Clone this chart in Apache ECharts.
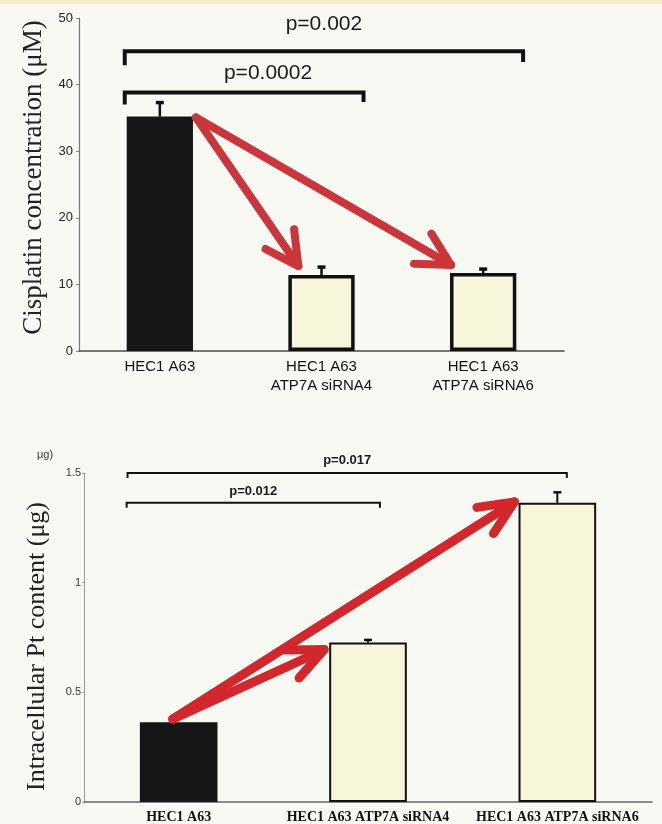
<!DOCTYPE html>
<html>
<head>
<meta charset="utf-8">
<script src="https://cdn.jsdelivr.net/npm/echarts@6/dist/echarts.min.js"></script>
<style>
  html, body { margin: 0; padding: 0; background: #f9f9f3; }
  #chart { width: 662px; height: 824px; }
</style>
</head>
<body>
<div id="chart"></div>
<script>
// Groups shown in both panels
const cisplatinCategories = ['HEC1 A63', 'HEC1 A63\nATP7A siRNA4', 'HEC1 A63\nATP7A siRNA6'];
const ptCategories = ['HEC1 A63', 'HEC1 A63 ATP7A siRNA4', 'HEC1 A63 ATP7A siRNA6'];

// Upper panel: cisplatin concentration (µM), mean and SD
const cisplatinValues = [35.2, 11.4, 11.7];
const cisplatinErrors = [2.1, 1.2, 0.6];
const cisplatinTicks = [0, 10, 20, 30, 40, 50];

// Lower panel: intracellular Pt content (µg), mean and SD
const ptValues = [0.364, 0.727, 1.364];
const ptErrors = [0, 0.012, 0.048];
const ptTicks = [0, 0.5, 1, 1.5];

// Significance comparisons: [group A, group B, label]
const cisplatinComparisons = [[0, 2, 'p=0.002'], [0, 1, 'p=0.0002']];
const ptComparisons = [[0, 2, 'p=0.017'], [0, 1, 'p=0.012']];

// Trend arrows: [from group, to group]
const cisplatinArrows = [[0, 1], [0, 2]];
const ptArrows = [[0, 1], [0, 2]];

const BAR_RATIO = 0.41;
const CREAM = '#f7f5da';

// Layout of the annotation layers (pixel / band-fraction tweaks per panel)
const topLayout = {
  bracket: [
    { left: -0.217, right: 0.247, level: 45, dropL: 42.9, dropR: 43.4, textX: 0.5, textV: 49, lw: 4 },
    { left: -0.217, right: 0.26, level: 38.8, dropL: 37.0, dropR: 37.4, textX: 0.6, textV: 41.7, lw: 4 }
  ],
  font: '21px "Liberation Sans", Arial, sans-serif',
  arrow: {
    start: b => [b.right + 3, b.top + 1],
    tips: [b => [b.left + 10, b.top - 9], b => [b.left + 1, b.top - 8]],
    arm: 37, angle: 28, lw: 8, color: '#c9363b'
  },
  err: { lw: 2.5, cap: 8, capW: 3.5 }
};
const bottomLayout = {
  bracket: [
    { left: -0.27, right: 0.05, level: 1.5, dropL: 1.477, dropR: 1.477, textX: 0.5, textV: 1.559, lw: 2 },
    { left: -0.275, right: 0.063, level: 1.364, dropL: 1.342, dropR: 1.342, textX: 0.5, textV: 1.414, lw: 2 }
  ],
  font: 'bold 13px "Liberation Sans", Arial, sans-serif',
  arrow: {
    start: b => [b.cx - 6, b.top - 3],
    tips: [b => [b.left - 5, b.top + 7], b => [b.left - 4, b.top - 1]],
    arm: 38, angle: 24, lw: 9, color: '#d2282d'
  },
  err: { lw: 2, cap: 8, capW: 2.5 }
};

function barGeometry(api, values) {
  const band = api.size([1, 0])[0];
  const half = band * BAR_RATIO / 2;
  return values.map((v, i) => {
    const p = api.coord([i, v]);
    return { cx: p[0], top: p[1], left: p[0] - half, right: p[0] + half, band };
  });
}

// Shaft plus an open chevron head, stroked with round ends
function arrowShapes(S, T, o) {
  const back = Math.atan2(S[1] - T[1], S[0] - T[0]);
  const a = o.angle * Math.PI / 180;
  const w1 = [T[0] + o.arm * Math.cos(back + a), T[1] + o.arm * Math.sin(back + a)];
  const w2 = [T[0] + o.arm * Math.cos(back - a), T[1] + o.arm * Math.sin(back - a)];
  const style = { stroke: o.color, lineWidth: o.lw, lineCap: 'round', lineJoin: 'round', fill: null };
  return [
    { type: 'line', shape: { x1: S[0], y1: S[1], x2: T[0], y2: T[1] }, style },
    { type: 'polyline', shape: { points: [w1, T, w2] }, style }
  ];
}

function makeAnnotations(values, errors, comparisons, arrows, layout) {
  return function (params, api) {
    const bars = barGeometry(api, values);
    const yOf = v => api.coord([0, v])[1];
    const children = [];

    // error bars (upper whisker only)
    values.forEach((v, i) => {
      if (!errors[i]) return;
      const yTop = yOf(v + errors[i]);
      const x = bars[i].cx;
      children.push({ type: 'line', shape: { x1: x, y1: bars[i].top, x2: x, y2: yTop },
        style: { stroke: '#111', lineWidth: layout.err.lw } });
      children.push({ type: 'line', shape: { x1: x - layout.err.cap / 2, y1: yTop, x2: x + layout.err.cap / 2, y2: yTop },
        style: { stroke: '#111', lineWidth: layout.err.capW } });
    });

    // significance brackets with p-values
    comparisons.forEach((c, k) => {
      const g = layout.bracket[k];
      const band = bars[0].band;
      const x1 = bars[c[0]].cx + g.left * band;
      const x2 = bars[c[1]].cx + g.right * band;
      const y = yOf(g.level);
      children.push({ type: 'polyline',
        shape: { points: [[x1, yOf(g.dropL)], [x1, y], [x2, y], [x2, yOf(g.dropR)]] },
        style: { stroke: '#111', lineWidth: g.lw, fill: null, lineJoin: 'miter' } });
      const tx = x1 + (x2 - x1) * g.textX;
      children.push({ type: 'text',
        style: { text: c[2], x: tx, y: yOf(g.textV), align: 'center', verticalAlign: 'middle',
          font: layout.font, fill: '#1a1a1a' } });
    });

    // trend arrows from the control bar
    arrows.forEach((a, k) => {
      const S = layout.arrow.start(bars[a[0]]);
      const T = layout.arrow.tips[k](bars[a[1]]);
      arrowShapes(S, T, layout.arrow).forEach(el => children.push(el));
    });

    return { type: 'group', children };
  };
}

function barData(values, lw) {
  return values.map((v, i) => ({
    value: v,
    itemStyle: i === 0
      ? { color: '#161616', borderColor: '#161616', borderWidth: 0 }
      : { color: CREAM, borderColor: '#111', borderWidth: lw }
  }));
}

const chart = echarts.init(document.getElementById('chart'));
chart.setOption({
  backgroundColor: '#f9f9f3',
  animation: false,
  graphic: [
    { type: 'rect', left: 0, top: 0, shape: { width: 662, height: 4 }, style: { fill: '#f4edbd' } },
    { type: 'text', left: 37, top: 449, style: { text: 'μg)', font: '11px "Liberation Sans", Arial, sans-serif', fill: '#333' } }
  ],
  grid: [
    { left: 79, top: 18, width: 485, height: 333 },
    { left: 84, top: 473, width: 568, height: 330 }
  ],
  xAxis: [
    { type: 'category', gridIndex: 0, data: cisplatinCategories,
      axisLine: { lineStyle: { color: '#4a4a4a', width: 1.5 } }, axisTick: { show: false },
      axisLabel: { interval: 0, color: '#111', fontSize: 15, lineHeight: 19, margin: 6,
        fontFamily: '"Liberation Sans", Arial, sans-serif' } },
    { type: 'category', gridIndex: 1, data: ptCategories,
      axisLine: { lineStyle: { color: '#666', width: 1.5 } }, axisTick: { show: false },
      axisLabel: { interval: 0, color: '#111', fontSize: 14, fontWeight: 'bold', margin: 8,
        fontFamily: '"Liberation Serif", "Times New Roman", serif' } }
  ],
  yAxis: [
    { type: 'value', gridIndex: 0,
      min: cisplatinTicks[0], max: cisplatinTicks[cisplatinTicks.length - 1],
      interval: cisplatinTicks[1] - cisplatinTicks[0],
      name: 'Cisplatin concentration (μM)', nameLocation: 'middle', nameGap: 32,
      nameTextStyle: { fontFamily: '"Liberation Serif", "Times New Roman", serif', fontSize: 27, color: '#222',
        padding: [0, 0, 0, 14] },
      axisLine: { show: true, lineStyle: { color: '#777', width: 1.2 } },
      axisTick: { show: true, length: 3, lineStyle: { color: '#888' } },
      splitLine: { show: false },
      axisLabel: { color: '#222', fontSize: 13, margin: 6, fontFamily: '"Liberation Sans", Arial, sans-serif' } },
    { type: 'value', gridIndex: 1,
      min: ptTicks[0], max: ptTicks[ptTicks.length - 1], interval: ptTicks[1] - ptTicks[0],
      name: 'Intracellular Pt content (μg)', nameLocation: 'middle', nameGap: 34,
      nameTextStyle: { fontFamily: '"Liberation Serif", "Times New Roman", serif', fontSize: 26, color: '#222',
        padding: [0, 18, 0, 0] },
      axisLine: { show: true, lineStyle: { color: '#999', width: 1 } },
      axisTick: { show: true, length: 2, lineStyle: { color: '#aaa' } },
      splitLine: { show: false },
      axisLabel: { color: '#333', fontSize: 11, margin: 3, fontFamily: '"Liberation Sans", Arial, sans-serif' } }
  ],
  series: [
    { type: 'bar', xAxisIndex: 0, yAxisIndex: 0, barWidth: (BAR_RATIO * 100) + '%',
      data: barData(cisplatinValues, 3.5), z: 2 },
    { type: 'bar', xAxisIndex: 1, yAxisIndex: 1, barWidth: (BAR_RATIO * 100) + '%',
      data: barData(ptValues, 2), z: 2 },
    { type: 'custom', xAxisIndex: 0, yAxisIndex: 0, clip: false, z: 5, silent: true,
      data: [[0, 0]],
      renderItem: makeAnnotations(cisplatinValues, cisplatinErrors, cisplatinComparisons, cisplatinArrows, topLayout) },
    { type: 'custom', xAxisIndex: 1, yAxisIndex: 1, clip: false, z: 5, silent: true,
      data: [[0, 0]],
      renderItem: makeAnnotations(ptValues, ptErrors, ptComparisons, ptArrows, bottomLayout) }
  ]
});
</script>
</body>
</html>
